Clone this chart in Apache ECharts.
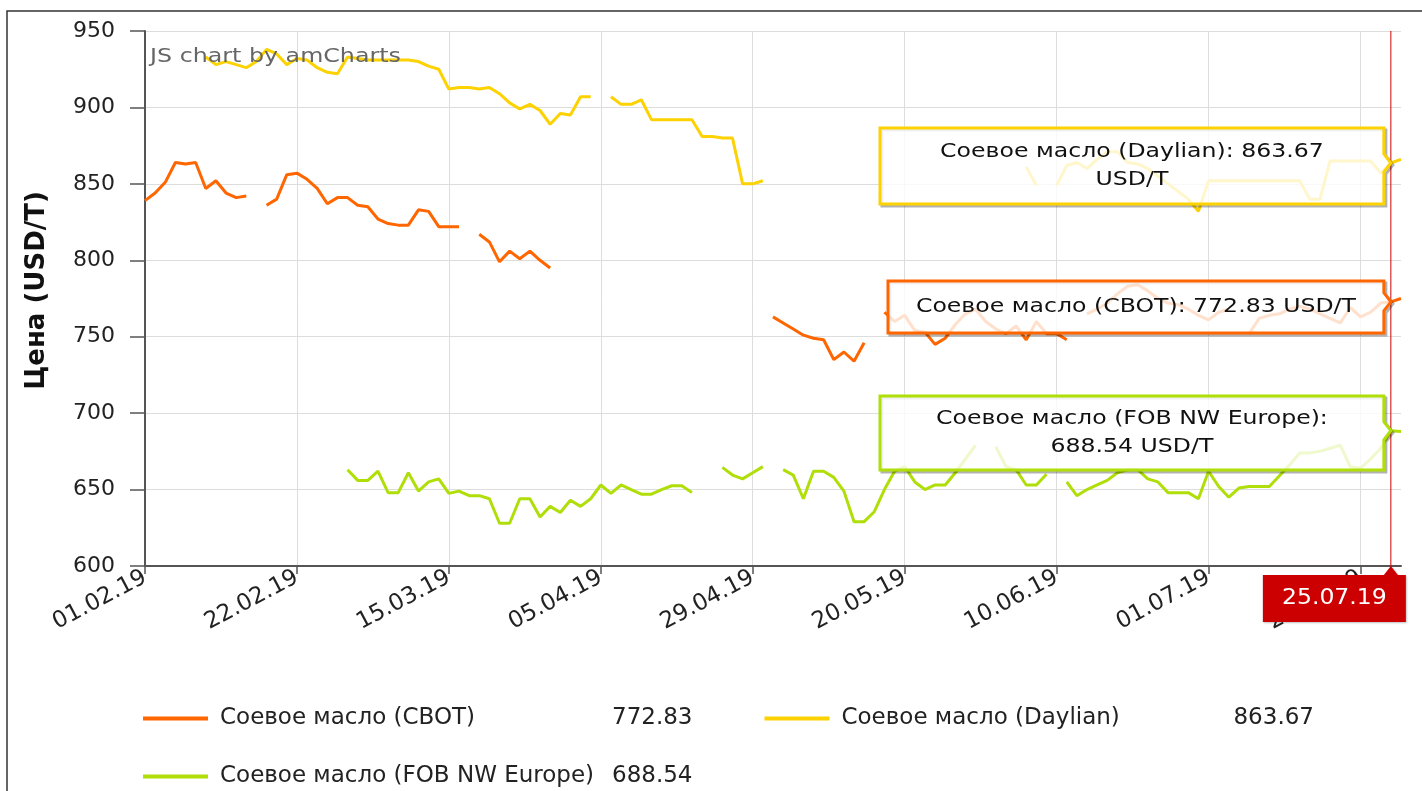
<!DOCTYPE html>
<html>
<head>
<meta charset="utf-8">
<title>Соевое масло</title>
<script src="https://cdn.jsdelivr.net/npm/echarts@6/dist/echarts.min.js"></script>
<style>
    html, body { margin: 0; padding: 0; background: #fff; }
    #chart_content { width: 1422px; height: 791px; }
</style>
</head>
<body>
<div id="chart_content"></div>
<script>
// trading days, 01.02.19 - 26.07.19
var dates = [
    "01.02.19","04.02.19","05.02.19","06.02.19","07.02.19","08.02.19","11.02.19","12.02.19","13.02.19","14.02.19",
    "15.02.19","18.02.19","19.02.19","20.02.19","21.02.19","22.02.19","25.02.19","26.02.19","27.02.19","28.02.19",
    "01.03.19","04.03.19","05.03.19","06.03.19","07.03.19","08.03.19","11.03.19","12.03.19","13.03.19","14.03.19",
    "15.03.19","18.03.19","19.03.19","20.03.19","21.03.19","22.03.19","25.03.19","26.03.19","27.03.19","28.03.19",
    "29.03.19","01.04.19","02.04.19","03.04.19","04.04.19","05.04.19","08.04.19","09.04.19","10.04.19","11.04.19",
    "12.04.19","15.04.19","16.04.19","17.04.19","18.04.19","22.04.19","23.04.19","24.04.19","25.04.19","26.04.19",
    "29.04.19","30.04.19","01.05.19","02.05.19","03.05.19","06.05.19","07.05.19","08.05.19","09.05.19","10.05.19",
    "13.05.19","14.05.19","15.05.19","16.05.19","17.05.19","20.05.19","21.05.19","22.05.19","23.05.19","24.05.19",
    "27.05.19","28.05.19","29.05.19","30.05.19","31.05.19","03.06.19","04.06.19","05.06.19","06.06.19","07.06.19",
    "10.06.19","11.06.19","12.06.19","13.06.19","14.06.19","17.06.19","18.06.19","19.06.19","20.06.19","21.06.19",
    "24.06.19","25.06.19","26.06.19","27.06.19","28.06.19","01.07.19","02.07.19","03.07.19","04.07.19","05.07.19",
    "08.07.19","09.07.19","10.07.19","11.07.19","12.07.19","15.07.19","16.07.19","17.07.19","18.07.19","19.07.19",
    "22.07.19","23.07.19","24.07.19","25.07.19","26.07.19"
];

var seriesNames = ["Соевое масло (CBOT)", "Соевое масло (Daylian)", "Соевое масло (FOB NW Europe)"];
var seriesColors = ["#FF6600", "#FCD202", "#B0DE09"];

var cbot = [
    839, 844, 851, 864, 863, 864, 847, 852, 844, 841,
    842, null, 836, 840, 856, 857, 853, 847, 837, 841,
    841, 836, 835, 827, 824, 823, 823, 833, 832, 822,
    822, 822, null, 817, 812, 799, 806, 801, 806, 800,
    795, null, null, null, null, null, null, null, null, null,
    null, null, null, null, null, null, null, null, null, null,
    null, null, 763, 759, 755, 751, 749, 748, 735, 740,
    734, 746, null, 766, 760, 764, 754, 753, 745, 749,
    758, 765, 768, 760, 755, 752, 757, 748, 760, 752,
    752, 748, null, 765, 768, 772, 778, 783, 784, 780,
    775, 772, 771, 768, 764, 761, 766, 768, null, 752,
    762, 764, 765, 768, 770, 768, 765, 762, 759, 769,
    763, 766, 772, 772.83, 775
];
var daylian = [
    null, null, null, null, null, null, 933, 928, 930, 928,
    926, 930, 938, 935, 928, 932, 931, 926, 923, 922,
    933, 932, 931, 931, 931, 931, 931, 930, 927, 925,
    912, 913, 913, 912, 913, 909, 903, 899, 902, 898,
    889, 896, 895, 907, 907, null, 907, 902, 902, 905,
    892, 892, 892, 892, 892, 881, 881, 880, 880, 850,
    850, 852, null, null, null, null, null, null, null, null,
    null, null, null, null, null, null, null, null, null, null,
    null, null, null, null, null, null, null, 861, 849, null,
    849, 862, 864, 860, 866, 871, 871, 864, 863, 860,
    855, 850, 845, 840, 832, 852, 852, 852, 852, 852,
    852, 852, 852, 852, 852, 840, 840, 865, 865, 865,
    865, 865, 857, 863.67, 866
];
var fob = [
    null, null, null, null, null, null, null, null, null, null,
    null, null, null, null, null, null, null, null, null, null,
    663, 656, 656, 662, 648, 648, 661, 649, 655, 657,
    647.5, 649, 646, 646, 644, 628, 628, 644, 644, 632,
    639, 635, 643, 639, 644, 653, 647.5, 653, 650, 647,
    647, 650, 652.5, 652.5, 648, null, null, 664.5, 659.5, 657,
    661, 665, null, 663, 659.5, 644, 662, 662, 658, 649,
    629, 629, 635.5, 650, 662, 665, 655, 650, 653, 653,
    661, 670, 679, null, 678, 665, 663, 653, 653, 660,
    null, 655, 646, 650, 653, 656, 661, 663, 663, 657,
    655, 648, 648, 648, 644, 662, 652, 645, 651, 652,
    652, 652, 659, 666, 674, 674, 675, 677, 679, 665,
    664, 670, 677, 688.54, 688
];
var cursorDate = "25.07.19";
var unit = "USD/T";

var FONT = '"DejaVu Sans", Verdana, sans-serif';
var allData = [cbot, daylian, fob];
var cursorIdx = dates.indexOf(cursorDate);

var chart = echarts.init(document.getElementById("chart_content"));

function legendFormatter(name){
    var i = seriesNames.indexOf(name);
    return "{s|}{n|" + name + "}{v|" + allData[i][cursorIdx].toFixed(2) + "}";
}
var legendRich = {
    s: { width: 7 },
    n: { width: 392, fontSize: 23, color: "#222", fontFamily: FONT },
    v: { width: 85, fontSize: 23, color: "#222", fontFamily: FONT }
};
function makeLegend(names, top){
    return {
        data: names,
        left: 138,
        top: top,
        orient: "horizontal",
        icon: "rect",
        itemWidth: 65,
        itemHeight: 4,
        itemGap: 72,
        selectedMode: false,
        formatter: legendFormatter,
        textStyle: { fontSize: 23, color: "#222", fontFamily: FONT, rich: legendRich }
    };
}

var series = [];
for(var i = 0; i < seriesNames.length; i++){
    series.push({
        name: seriesNames[i],
        type: "line",
        data: allData[i],
        color: seriesColors[i],
        showSymbol: false,
        connectNulls: false,
        lineStyle: { width: 3, color: seriesColors[i] },
        emphasis: { disabled: true },
        z: 2
    });
}

var option = {
    animation: false,
    textStyle: { fontFamily: FONT },
    grid: { left: 145, right: 21, top: 31, bottom: 225, containLabel: false },
    legend: [
        makeLegend([seriesNames[0], seriesNames[1]], 702),
        makeLegend([seriesNames[2]], 760)
    ],
    xAxis: {
        type: "category",
        data: dates,
        boundaryGap: false,
        axisLine: { lineStyle: { color: "#555", width: 2 } },
        axisTick: { show: true, interval: 14, length: 8, lineStyle: { color: "#555", width: 1.5 } },
        axisLabel: { interval: 14, rotate: 28, fontSize: 23, color: "#222", margin: 10, fontFamily: FONT },
        splitLine: { show: true, interval: 14, lineStyle: { color: "#ddd", width: 1 } }
    },
    yAxis: {
        type: "value",
        min: 600,
        max: 950,
        interval: 50,
        name: "Цена (USD/T)",
        nameLocation: "middle",
        nameRotate: 90,
        nameGap: 95,
        nameTextStyle: { fontSize: 26, fontWeight: "bold", color: "#111", fontFamily: FONT, padding: [0, 0, 0, 16] },
        axisLine: { show: true, lineStyle: { color: "#555", width: 2 } },
        axisTick: { show: true, length: 15, lineStyle: { color: "#555", width: 1.5 } },
        axisLabel: { fontSize: 22, color: "#222", margin: 30, fontFamily: FONT },
        splitLine: { show: true, lineStyle: { color: "#ddd", width: 1 } }
    },
    series: series
};
chart.setOption(option);

// cursor, balloons, date label
var plotTop = chart.convertToPixel({ yAxisIndex: 0 }, 950);
var plotBottom = chart.convertToPixel({ yAxisIndex: 0 }, 600);
var cx = chart.convertToPixel({ xAxisIndex: 0 }, cursorDate);

// balloon boxes: [left, top, bottom]
var balloons = [
    { s: 1, box: [880, 128, 204], text: seriesNames[1] + ": " + daylian[cursorIdx].toFixed(2) + "\n" + unit },
    { s: 0, box: [888, 281, 333], text: seriesNames[0] + ": " + cbot[cursorIdx].toFixed(2) + " " + unit },
    { s: 2, box: [880, 396, 470], text: seriesNames[2] + ":\n" + fob[cursorIdx].toFixed(2) + " " + unit }
];

var graphic = [
    {
        type: "rect", silent: true, z: 0,
        shape: { x: 7, y: 11, width: 1440, height: 820 },
        style: { fill: "none", stroke: "#333", lineWidth: 1.5 }
    },
    {
        type: "text", x: 150, y: 57, z: 50, silent: true, scaleX: 1.25,
        style: { text: "JS chart by amCharts", fill: "#666", font: "19px " + FONT, verticalAlign: "middle" }
    },
    {
        type: "line", z: 60, silent: true,
        shape: { x1: cx, y1: plotTop, x2: cx, y2: plotBottom },
        style: { stroke: "#CC0000", lineWidth: 1 }
    }
];

function balloonPoints(x0, y0, x1, y1, tx, ty, dx, dy){
    return [[x0 + dx, y0 + dy], [x1 + dx, y0 + dy], [x1 + dx, ty - 9 + dy], [tx + dx, ty + dy],
            [x1 + dx, ty + 9 + dy], [x1 + dx, y1 + dy], [x0 + dx, y1 + dy]];
}

for(var b = 0; b < balloons.length; b++){
    var bl = balloons[b];
    var tip = chart.convertToPixel({ xAxisIndex: 0, yAxisIndex: 0 }, [cursorDate, allData[bl.s][cursorIdx]]);
    var x0 = bl.box[0], y0 = bl.box[1], y1 = bl.box[2], x1 = tip[0] - 7;
    var ty = tip[1];
    // shadow
    graphic.push({
        type: "polygon", z: 69, silent: true,
        shape: { points: balloonPoints(x0, y0, x1, y1, tip[0], ty, 2, 2) },
        style: { fill: "none", stroke: "rgba(0,0,0,0.3)", lineWidth: 3 }
    });
    // body
    graphic.push({
        type: "polygon", z: 70, silent: true,
        shape: { points: balloonPoints(x0, y0, x1, y1, tip[0], ty, 0, 0) },
        style: { fill: "rgba(255,255,255,0.8)", stroke: seriesColors[bl.s], lineWidth: 3 }
    });
    graphic.push({
        type: "text", z: 71, silent: true, scaleX: 1.18,
        x: (x0 + x1) / 2, y: (y0 + y1) / 2,
        style: {
            text: bl.text, fill: "#111", font: "20px " + FONT,
            align: "center", verticalAlign: "middle", lineHeight: 28
        }
    });
}

// date label under the cursor
var lblRight = cx + 15, lblLeft = cx - 128;
graphic.push({
    type: "polygon", z: 80, silent: true,
    shape: { points: [[lblLeft, plotBottom + 9], [cx - 7, plotBottom + 9], [cx, plotBottom], [cx + 7, plotBottom + 9],
                      [lblRight, plotBottom + 9], [lblRight, plotBottom + 56], [lblLeft, plotBottom + 56]] },
    style: { fill: "#CC0000", shadowColor: "rgba(0,0,0,0.25)", shadowBlur: 2, shadowOffsetX: 1, shadowOffsetY: 1 }
});
graphic.push({
    type: "text", z: 81, silent: true, scaleX: 1.12,
    x: (lblLeft + lblRight) / 2, y: plotBottom + 33,
    style: { text: cursorDate, fill: "#fff", font: "21px " + FONT, align: "center", verticalAlign: "middle" }
});

chart.setOption({ graphic: graphic });

window.onresize = function(){
    chart.resize();
};
</script>
</body>
</html>
